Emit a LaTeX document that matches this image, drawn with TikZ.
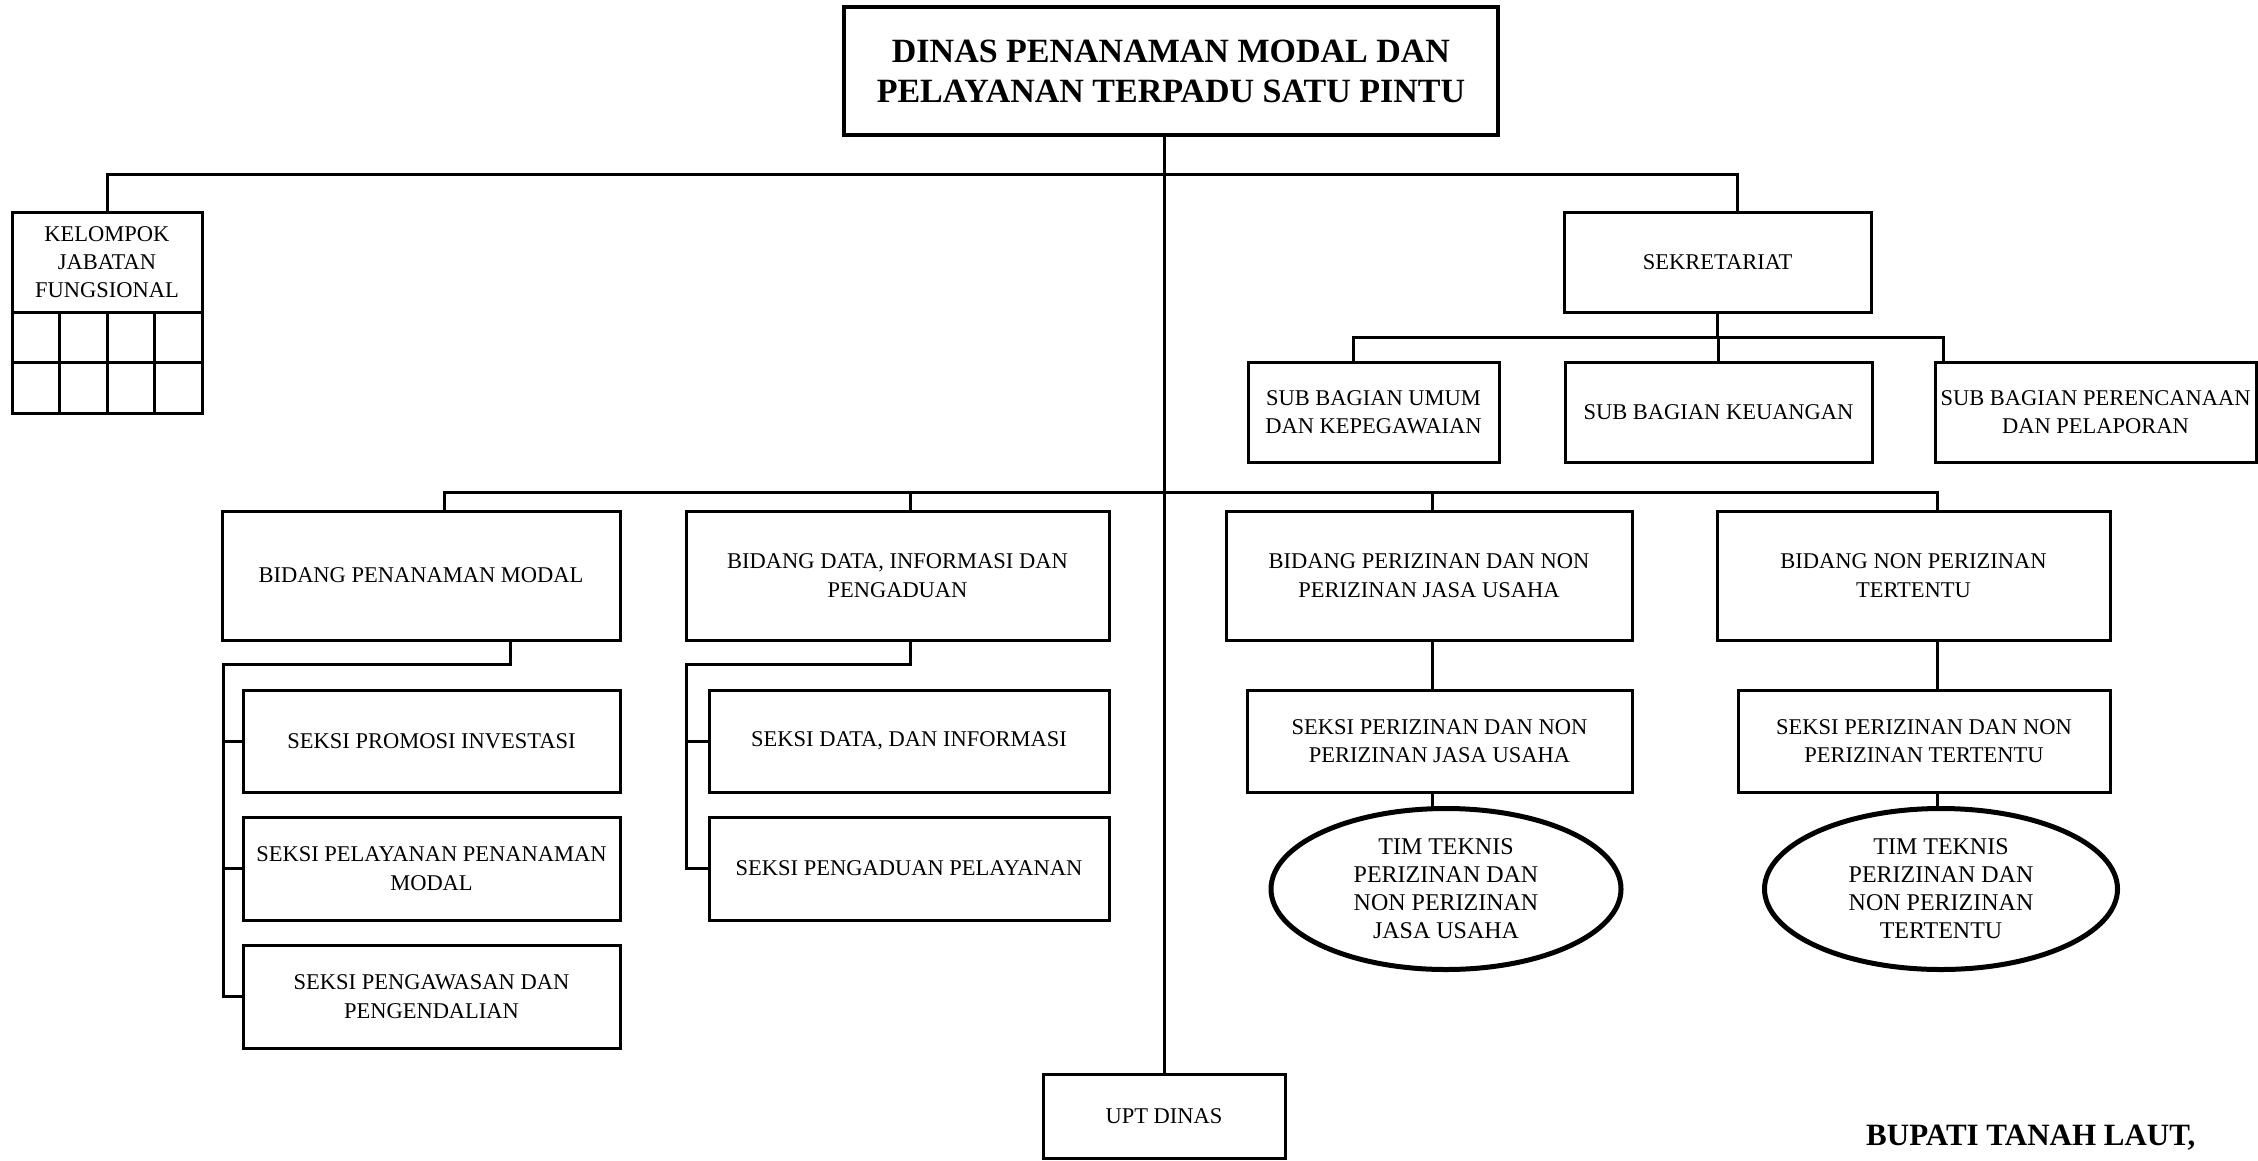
\documentclass[tikz,border=0pt]{standalone}
\usepackage{fontspec}
\setmainfont{Liberation Serif}
\usetikzlibrary{shapes.geometric,calc}
\begin{document}
\begin{tikzpicture}[x=1pt,y=-1pt,
  box/.style={draw,line width=3pt,rectangle,align=center,inner sep=0pt,outer sep=0pt,font=\fontsize{22.5}{28.5}\selectfont},
  oval/.style={draw,line width=5pt,ellipse,align=center,inner sep=0pt,outer sep=0pt,font=\fontsize{24}{28}\selectfont},
  conn/.style={line width=3pt}]
\useasboundingbox (0,0) rectangle (2258,1160);
% top
\node[box,line width=4pt,minimum width=654pt,minimum height=128pt,font=\fontsize{34}{40}\selectfont\bfseries] (top) at (1171,71) {DINAS PENANAMAN MODAL DAN\\PELAYANAN TERPADU SATU PINTU};
% kelompok
\node[box,minimum width=190pt,minimum height=100pt,font=\fontsize{22.5}{28}\selectfont] (kel) at (107,262) {KELOMPOK\\JABATAN\\FUNGSIONAL};
\foreach \i in {0,1,2,3}
  \foreach \j in {0,1}
    \draw[conn] (kel.south west) ++(47.5*\i,50.5*\j) rectangle ++(47.5,50.5);
% sekretariat
\node[box,minimum width=307pt,minimum height=100pt] (sek) at (1717.5,262) {SEKRETARIAT};
\node[box,minimum width=251pt,minimum height=100pt] (umum) at (1373.5,412) {SUB BAGIAN UMUM\\DAN KEPEGAWAIAN};
\node[box,minimum width=307pt,minimum height=100pt] (keu) at (1718.5,412) {SUB BAGIAN KEUANGAN};
\node[box,minimum width=321pt,minimum height=100pt] (per) at (2095.5,412) {SUB BAGIAN PERENCANAAN\\DAN PELAPORAN};
% bidang
\node[box,minimum width=398pt,minimum height=129pt] (bpm) at (421,575.5) {BIDANG PENANAMAN MODAL};
\node[box,minimum width=423pt,minimum height=129pt] (bdata) at (897.5,575.5) {BIDANG DATA, INFORMASI DAN\\PENGADUAN};
\node[box,minimum width=406pt,minimum height=129pt] (bper) at (1429,575.5) {BIDANG PERIZINAN DAN NON\\PERIZINAN JASA USAHA};
\node[box,minimum width=393pt,minimum height=129pt] (bnon) at (1913.5,575.5) {BIDANG NON PERIZINAN\\TERTENTU};
% seksi
\node[box,minimum width=377pt,minimum height=102pt] (s1) at (431.5,741) {SEKSI PROMOSI INVESTASI};
\node[box,minimum width=377pt,minimum height=103pt] (s2) at (431.5,868.5) {SEKSI PELAYANAN PENANAMAN\\MODAL};
\node[box,minimum width=377pt,minimum height=103pt] (s3) at (431.5,996.5) {SEKSI PENGAWASAN DAN\\PENGENDALIAN};
\node[box,minimum width=400pt,minimum height=102pt] (sd1) at (909,741) {SEKSI DATA, DAN INFORMASI};
\node[box,minimum width=400pt,minimum height=103pt] (sd2) at (909,868.5) {SEKSI PENGADUAN PELAYANAN};
\node[box,minimum width=385pt,minimum height=102pt] (sp1) at (1439.5,741) {SEKSI PERIZINAN DAN NON\\PERIZINAN JASA USAHA};
\node[box,minimum width=372pt,minimum height=102pt] (sp2) at (1924,741) {SEKSI PERIZINAN DAN NON\\PERIZINAN TERTENTU};
% ellipses
\node[oval,minimum width=350pt,minimum height=161pt] (e1) at (1446,889) {TIM TEKNIS\\PERIZINAN DAN\\NON PERIZINAN\\JASA USAHA};
\node[oval,minimum width=353pt,minimum height=161pt] (e2) at (1941,889) {TIM TEKNIS\\PERIZINAN DAN\\NON PERIZINAN\\TERTENTU};
% upt
\node[box,minimum width=242pt,minimum height=84pt] (upt) at (1164,1116) {UPT DINAS};
\node[anchor=west,inner sep=0pt,font=\fontsize{31}{36}\selectfont\bfseries] (bup) at (1866,1138) {BUPATI TANAH LAUT,};
% connectors
\draw[conn] (top.south -| upt.north) -- (upt.north);
\coordinate (h1) at (0,174);
\coordinate (sekin) at ($(sek.north)+(20,0)$);
\draw[conn] (kel.north) -- (kel.north |- h1) -- (sekin |- h1) -- (sekin);
\coordinate (h2) at (0,337);
\coordinate (umin) at ($(umum.north)+(-20,0)$);
\coordinate (perin) at ($(per.north)+(-152.5,0)$);
\draw[conn] (sek.south) -- (sek.south |- h2);
\draw[conn] (umin) -- (umin |- h2) -- (perin |- h2) -- (perin);
\draw[conn] (keu.north) -- (keu.north |- h2);
\coordinate (h3) at (0,492);
\coordinate (bpmin) at ($(bpm.north)+(23,0)$);
\coordinate (bdin) at ($(bdata.north)+(12.5,0)$);
\coordinate (bperin) at ($(bper.north)+(3,0)$);
\coordinate (bnonin) at ($(bnon.north)+(23.5,0)$);
\draw[conn] (bpmin) -- (bpmin |- h3) -- (bnonin |- h3) -- (bnonin);
\draw[conn] (bdin) -- (bdin |- h3);
\draw[conn] (bperin) -- (bperin |- h3);
% bpm branch
\coordinate (h4) at (0,664);
\coordinate (bpmout) at ($(bpm.south)+(89,0)$);
\coordinate (bpmx) at ($(bpm.south west)+(1,0)$);
\draw[conn] (bpmout) -- (bpmout |- h4) -- (bpmx |- h4) -- (bpmx |- s3.west) -- (s3.west);
\draw[conn] (bpmx |- s1.west) -- (s1.west);
\draw[conn] (bpmx |- s2.west) -- (s2.west);
% bdata branch
\coordinate (bdout) at ($(bdata.south)+(12.5,0)$);
\draw[conn] (bdout) -- (bdout |- h4) -- (bdata.south west |- h4) -- (bdata.south west |- sd2.west) -- (sd2.west);
\draw[conn] (bdata.south west |- sd1.west) -- (sd1.west);
% perizinan branch
\coordinate (bperout) at ($(bper.south)+(3,0)$);
\draw[conn] (bperout) -- (bperout |- sp1.north);
\draw[conn] (bperout |- sp1.south) -- (bperout |- e1.north);
% non branch
\coordinate (bnonout) at ($(bnon.south)+(23.5,0)$);
\draw[conn] (bnonout) -- (bnonout |- sp2.north);
\draw[conn] (bnonout |- sp2.south) -- (bnonout |- e2.north);
\end{tikzpicture}
\end{document}
